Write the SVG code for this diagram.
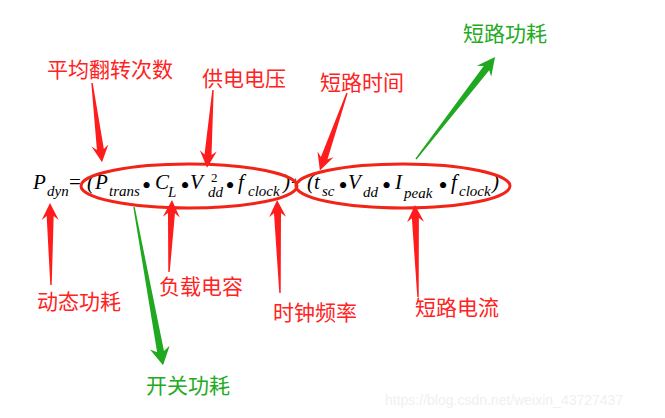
<svg xmlns="http://www.w3.org/2000/svg" width="665" height="418" viewBox="0 0 665 418">
<style>
.m{font-family:"Liberation Serif","Times New Roman",serif;font-style:italic;font-size:21px;fill:#000}
.s{font-family:"Liberation Serif","Times New Roman",serif;font-style:italic;font-size:15px;fill:#000}
.b{font-family:"Liberation Serif","Times New Roman",serif;font-size:26px;fill:#000;text-anchor:middle}
.r{font-family:"Noto Sans CJK SC","Microsoft YaHei",sans-serif;font-size:21px;fill:#ff2222}
.g{font-family:"Noto Sans CJK SC","Microsoft YaHei",sans-serif;font-size:21px;fill:#22aa22}
.el{fill:none;stroke:#f22418;stroke-width:3}
.ar{fill:#ff1c1c}
.ag{fill:#20a820}
</style>
<rect width="665" height="418" fill="#fff"/>
<g id="formula">
<text class="m" x="33" y="189">P</text>
<text class="s" x="47" y="196">dyn</text>
<text class="m" x="69" y="189" style="font-style:normal">=</text>
<text class="m" x="87" y="189">(</text>
<text class="m" x="95" y="189">P</text>
<text class="s" x="109" y="196">trans</text>
<text class="b" x="146.5" y="194">•</text>
<text class="m" x="155" y="189">C</text>
<text class="s" x="168" y="197">L</text>
<text class="b" x="185" y="194">•</text>
<text class="m" x="190" y="189">V</text>
<text class="s" x="211" y="182" style="font-style:normal;font-size:13px">2</text>
<text class="s" x="208" y="197">dd</text>
<text class="b" x="230" y="194">•</text>
<text class="m" x="238" y="189">f</text>
<text class="s" x="248" y="196">clock</text>
<text class="m" x="283" y="189">)</text>
<text class="m" x="291" y="188" style="font-style:normal;font-size:16px">+</text>
<text class="m" x="307" y="189">(</text>
<text class="m" x="314" y="189">t</text>
<text class="s" x="322" y="196">sc</text>
<text class="b" x="343" y="194">•</text>
<text class="m" x="348" y="189">V</text>
<text class="s" x="363" y="197">dd</text>
<text class="b" x="386.5" y="194">•</text>
<text class="m" x="395" y="189">I</text>
<text class="s" x="404" y="198">peak</text>
<text class="b" x="443" y="194">•</text>
<text class="m" x="451" y="189">f</text>
<text class="s" x="459" y="196">clock</text>
<text class="m" x="492" y="189">)</text>
</g>
<g id="group-switching">
<ellipse class="el" cx="189" cy="186" rx="108" ry="22"/>
</g>
<g id="group-short">
<ellipse class="el" cx="403" cy="186" rx="107" ry="22"/>
</g>
<g id="connectors">
<polygon class="ar" transform="translate(92,83) rotate(82.8)" points="0,-0.7 67,-3.5 63,-8.5 80,0 63,8.5 67,3.5 0,0.7"/>
<polygon class="ar" transform="translate(213,90) rotate(94.4)" points="0,-0.7 65,-3.5 61,-8.5 78,0 61,8.5 65,3.5 0,0.7"/>
<polygon class="ar" transform="translate(347,93) rotate(109.3)" points="0,-0.7 69,-3.5 65,-8.5 82,0 65,8.5 69,3.5 0,0.7"/>
<polygon class="ar" transform="translate(51,285) rotate(-90.7)" points="0,-0.7 69,-3.5 65,-8.5 82,0 65,8.5 69,3.5 0,0.7"/>
<polygon class="ar" transform="translate(169,272) rotate(-87.6)" points="0,-0.7 59,-3.5 55,-8.5 72,0 55,8.5 59,3.5 0,0.7"/>
<polygon class="ar" transform="translate(280,293) rotate(-91.8)" points="0,-0.7 80,-3.5 76,-8.5 93,0 76,8.5 80,3.5 0,0.7"/>
<polygon class="ar" transform="translate(418,297) rotate(-91.9)" points="0,-0.7 79,-3.5 75,-8.5 92,0 75,8.5 79,3.5 0,0.7"/>
<polygon class="ag" transform="translate(134,207) rotate(79.6)" points="0,-0.7 147,-3.5 143,-10 161,0 143,10 147,3.5 0,0.7"/>
<polygon class="ag" transform="translate(416,159) rotate(-52.2)" points="0,-0.7 115,-3.5 111,-9 129,0 111,9 115,3.5 0,0.7"/>
</g>
<g id="label-flip"><text class="r" x="47" y="77">平均翻转次数</text></g>
<g id="label-vdd"><text class="r" x="202" y="86">供电电压</text></g>
<g id="label-tsc"><text class="r" x="320" y="90">短路时间</text></g>
<g id="label-shortpower"><text class="g" x="463" y="41">短路功耗</text></g>
<g id="label-dyn"><text class="r" x="37" y="309">动态功耗</text></g>
<g id="label-cl"><text class="r" x="159" y="294">负载电容</text></g>
<g id="label-switch"><text class="g" x="146" y="393">开关功耗</text></g>
<g id="label-clock"><text class="r" x="273" y="320">时钟频率</text></g>
<g id="label-ipeak"><text class="r" x="415" y="315">短路电流</text></g>
<text x="385" y="405" style="font-family:'Liberation Sans',Arial,sans-serif;font-size:14px;fill:#f0f0f0">https://blog.csdn.net/weixin_43727437</text>
</svg>
